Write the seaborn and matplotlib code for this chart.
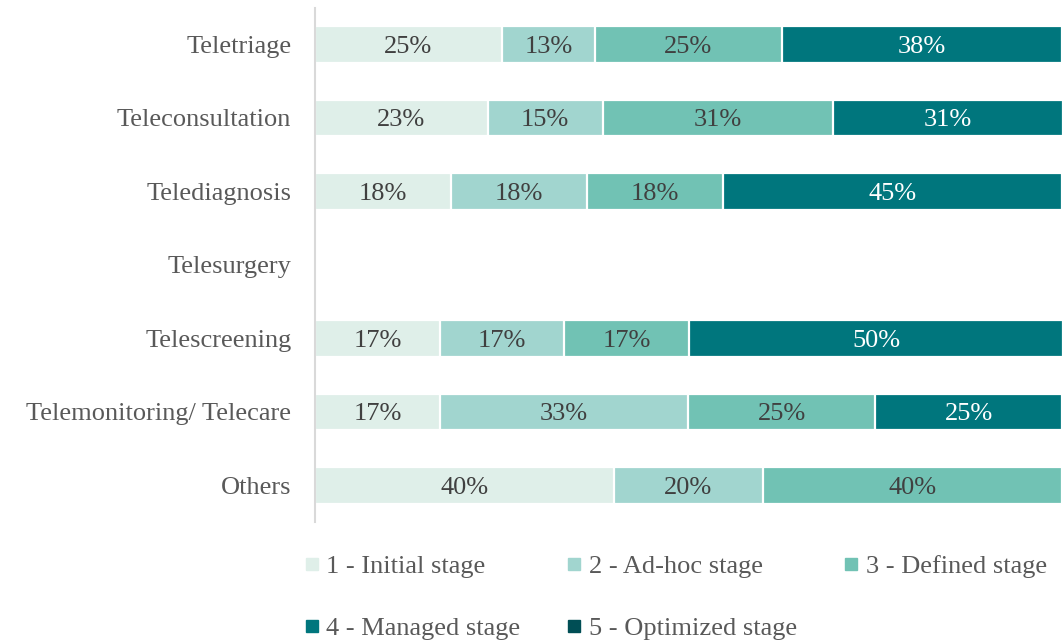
import matplotlib
matplotlib.use("Agg")
import matplotlib.pyplot as plt
from matplotlib.lines import Line2D
import numpy as np
import pandas as pd
import seaborn as sns

# Share of respondents (%) per maturity stage, per telemedicine service
SERVICES = ["Teletriage", "Teleconsultation", "Telediagnosis", "Telesurgery",
            "Telescreening", "Telemonitoring/ Telecare", "Others"]
STAGES = ["1 - Initial stage", "2 - Ad-hoc stage", "3 - Defined stage",
          "4 - Managed stage", "5 - Optimized stage"]
INITIAL = [25.0, 23.1, 18.2, 0.0, 16.7, 16.7, 40.0]
ADHOC = [12.5, 15.4, 18.2, 0.0, 16.7, 33.3, 20.0]
DEFINED = [25.0, 30.8, 18.2, 0.0, 16.7, 25.0, 40.0]
MANAGED = [37.5, 30.8, 45.4, 0.0, 50.0, 25.0, 0.0]
OPTIMIZED = [0.0, 0.0, 0.0, 0.0, 0.0, 0.0, 0.0]

COLORS = ["#dfefe9", "#a1d5cf", "#71c2b4", "#00767d", "#004e55"]
LABEL_COLORS = ["#404040", "#404040", "#404040", "white", "white"]


def pct(v):
    # half-up rounding, as the source spreadsheet does
    return f"{int(np.floor(v + 0.5))}%"


def main():
    sns.set_theme(style="white")
    plt.rcParams.update({"font.family": ["Liberation Serif", "DejaVu Serif"]})

    series = [INITIAL, ADHOC, DEFINED, MANAGED, OPTIMIZED]
    df = pd.DataFrame({s: v for s, v in zip(STAGES, series)}, index=SERVICES)
    df.index.name = "service"
    cum = df.cumsum(axis=1)

    fig = plt.figure(figsize=(10.62, 6.43), dpi=100)
    ax = fig.add_axes([0.2966, 0.188, 0.7034, 0.8])

    # stacked bars: draw cumulative totals from the last stage back to the first
    for i in range(len(STAGES) - 1, -1, -1):
        d = cum[STAGES[i]].reset_index(name="value")
        sns.barplot(data=d, x="value", y="service", order=SERVICES, orient="h",
                    color=COLORS[i], saturation=1, width=0.5,
                    edgecolor="white", linewidth=1.6, ax=ax)

    for i, stage in enumerate(STAGES):
        left = cum[stage] - df[stage]
        for j, svc in enumerate(SERVICES):
            v = df.loc[svc, stage]
            if v <= 0:
                continue
            ax.text(left[svc] + v / 2, j, pct(v), ha="center", va="center_baseline",
                    fontsize=19, color=LABEL_COLORS[i])

    ax.set_xlim(0, 100)
    ax.set_ylim(len(SERVICES) - 0.5, -0.5)
    ax.set_xlabel("")
    ax.set_ylabel("")
    ax.set_xticks([])
    ax.tick_params(axis="y", length=0, pad=17, labelsize=19, labelcolor="#595959")
    for side in ["top", "right", "bottom"]:
        ax.spines[side].set_visible(False)
    ax.spines["left"].set_color("#d9d9d9")
    ax.spines["left"].set_linewidth(1.5)

    handles = [Line2D([], [], marker="s", linestyle="none", markersize=8,
                      markerfacecolor=c, markeredgecolor=c) for c in COLORS]
    # legend fills column-wise; reorder so it reads row-wise
    order = [0, 3, 1, 4, 2]
    fig.legend([handles[k] for k in order], [STAGES[k] for k in order],
               loc="lower left", bbox_to_anchor=(0.26, -0.032),
               ncol=3, frameon=False, fontsize=19, labelcolor="#595959",
               handletextpad=0.1, handlelength=0.9, columnspacing=1.6,
               labelspacing=1.45)

    fig.savefig("out.png", dpi=100)
    plt.close(fig)


if __name__ == "__main__":
    main()
